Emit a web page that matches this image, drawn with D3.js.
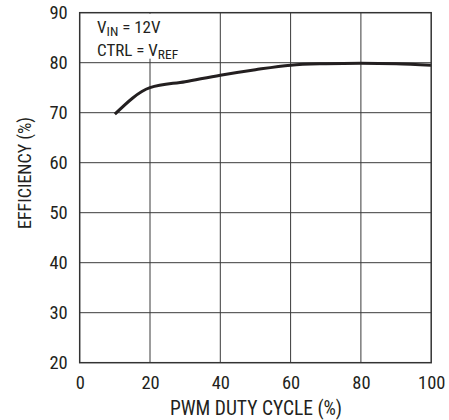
<!DOCTYPE html>
<html>
<head>
<meta charset="utf-8">
<script src="https://cdn.jsdelivr.net/npm/d3@7"></script>
<style>
  body { margin: 0; background: #fff; }
  text { font-family: "Roboto Condensed", "DejaVu Sans Condensed", sans-serif; fill: #231f20; }
</style>
</head>
<body>
<svg id="chart" width="449" height="420"></svg>
<script>
// duty cycle (%) vs efficiency (%)
var dutyCycle = [10, 20, 30, 40, 50, 60, 70, 80, 90, 100];
var efficiency = [69.7, 75.0, 76.2, 77.5, 78.6, 79.5, 79.8, 79.9, 79.8, 79.5];
var xTicks = [0, 20, 40, 60, 80, 100];
var yTicks = [20, 30, 40, 50, 60, 70, 80, 90];

var font = "\"Roboto Condensed\", \"DejaVu Sans Condensed\", sans-serif";
var svg = d3.select("#chart");
var m = {left: 79.7, top: 12.7, right: 431.2, bottom: 362.7};

var x = d3.scaleLinear().domain([0, 100]).range([m.left, m.right]);
var y = d3.scaleLinear().domain([20, 90]).range([m.bottom, m.top]);

// grid
var grid = svg.append("g");
grid.selectAll(".vg").data(xTicks.slice(1, -1)).enter().append("line")
    .attr("class", "vg")
    .attr("x1", d => x(d)).attr("x2", d => x(d))
    .attr("y1", m.top).attr("y2", m.bottom)
    .attr("stroke", "#3a3a3a").attr("stroke-width", 1);
grid.selectAll(".hg").data(yTicks.slice(1, -1)).enter().append("line")
    .attr("class", "hg")
    .attr("x1", m.left).attr("x2", m.right)
    .attr("y1", d => y(d)).attr("y2", d => y(d))
    .attr("stroke", "#3a3a3a").attr("stroke-width", 1);

// white box behind the note
svg.append("rect")
    .attr("x", m.left + 2).attr("y", m.top + 1)
    .attr("width", 85).attr("height", 45)
    .attr("fill", "#fff");

// curve
var line = d3.line()
    .x((d, i) => x(dutyCycle[i]))
    .y(d => y(d))
    .curve(d3.curveMonotoneX);
svg.append("path")
    .datum(efficiency)
    .attr("d", line)
    .attr("fill", "none")
    .attr("stroke", "#231f20")
    .attr("stroke-width", 3);

// frame
svg.append("rect")
    .attr("x", m.left).attr("y", m.top)
    .attr("width", m.right - m.left).attr("height", m.bottom - m.top)
    .attr("fill", "none").attr("stroke", "#333").attr("stroke-width", 1.5);

// tick labels
var xAxis = d3.axisBottom(x).tickValues(xTicks).tickSize(0).tickPadding(13);
var gx = svg.append("g").attr("transform", `translate(0,${m.bottom})`).call(xAxis);
gx.select(".domain").remove();
gx.selectAll("text").attr("font-size", 18.5).attr("fill", "#231f20").attr("font-family", font);

var yAxis = d3.axisLeft(y).tickValues(yTicks).tickSize(0).tickPadding(12);
var gy = svg.append("g").attr("transform", `translate(${m.left},0)`).call(yAxis);
gy.select(".domain").remove();
gy.selectAll("text").attr("font-size", 18.5).attr("fill", "#231f20").attr("font-family", font);

// axis titles
svg.append("text")
    .attr("x", 256).attr("y", 415)
    .attr("text-anchor", "middle").attr("font-size", 19.5)
    .text("PWM DUTY CYCLE (%)");
svg.append("text")
    .attr("transform", "translate(31,173) rotate(-90)")
    .attr("text-anchor", "middle").attr("font-size", 18)
    .text("EFFICIENCY (%)");

// note
var n1 = svg.append("text").attr("x", 97).attr("y", 32.5).attr("font-size", 17);
n1.append("tspan").text("V");
n1.append("tspan").attr("font-size", 13.5).attr("dy", 3).text("IN");
n1.append("tspan").attr("dy", -3).text(" = 12V");
var n2 = svg.append("text").attr("x", 97).attr("y", 55.5).attr("font-size", 17);
n2.append("tspan").text("CTRL = V");
n2.append("tspan").attr("font-size", 13.5).attr("dy", 3).text("REF");
</script>
</body>
</html>
